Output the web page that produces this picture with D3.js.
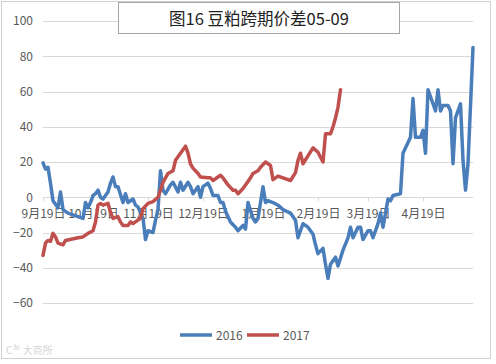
<!DOCTYPE html>
<html><head><meta charset="utf-8">
<script src="https://cdn.jsdelivr.net/npm/d3@7"></script>
<style>body{margin:0;background:#fff}svg{display:block}</style>
</head><body><svg id="c" width="496" height="364"></svg>
<script>
const title = "图16 豆粕跨期价差05-09";
const xTickIdx = [0, 20, 42, 64, 88, 110, 130, 152];
const xTickLabels = ["9月19日","10月19日","11月19日","12月19日","1月19日","2月19日","3月19日","4月19日"];
const yTicks = [-60, -40, -20, 0, 20, 40, 60, 80, 100];
const seriesNames = ["2016", "2017"];
const seriesColors = ["#4a7ebb", "#c0504d"];
const watermark = "C³⁰ 大商所";

// trading-day index and spread value, 2016 series
const day2016 = [0,1,2,3,4,6,7,8,10,14,16,17,18,19,20,21,22,23,24,26,27,28,29,30,32,33,34,36,37,38,40,41,42,44,45,46,47,48,49,51,52,54,55,56,58,59,60,62,63,64,66,67,68,70,71,72,73,75,77,78,80,81,82,84,85,86,88,89,90,92,94,96,99,101,102,104,106,108,109,110,112,113,114,115,117,118,120,122,123,124,126,127,128,130,131,132,134,135,136,137,138,139,140,143,144,146,147,148,149,151,152,153,154,155,157,158,159,160,162,163,164,165,167,168,169,170,172];
const val2016 = [19.5,16,17,8,-2,-6,3,-7,-9,-11,-12,-3,-6,-3,1,2,4,0,-1,3,8,11.5,6,6,-3,2,-3,-1,-4.5,-5.5,-12,-24,-19,-20,-13,-7,15,4,2,7,8.5,3,8.5,4,8.5,6,2,6,0,6,8,5,1,1,-3,-3,-8,-14,-17,-19,-16,-18,-3,-12,-14,-12,6,-3,-2,-3,-4.5,-7,-9,-13,-23,-15,-17,-21,-27,-32,-29,-38,-46,-38,-34,-39,-30,-23,-17,-23,-17,-17,-24,-19,-19,-23,-15,-9,-17,-9,-1,-2,1,2,25,31,34,56,34,34,38,25,61,57,49,61,49,52,52,49,19,45,53,21,4,19,85];

// trading-day index and spread value, 2017 series
const day2017 = [0,1,2,3,4,5,6,8,9,14,16,18,20,21,22,23,24,26,27,28,30,31,32,34,35,36,38,39,40,42,44,46,47,48,50,52,53,54,56,57,58,59,60,62,63,66,67,68,70,71,72,74,76,77,78,80,81,83,84,86,87,89,91,92,94,99,101,102,103,104,108,110,112,113,115,116,117,118,119];
const val2017 = [-33,-26,-24.5,-25,-20.5,-22.5,-26,-27,-24.5,-23,-22.5,-20.5,-19,-14,-4.5,-3.5,-4.5,-3.5,-8.5,-12,-11,-14,-16,-16,-14,-15,-13,-12,-6.5,-3.5,-2.5,0,4,8.5,13.5,15,21,23,27,29,25,19,16.5,13.5,11.5,11,11,9.5,11.5,12.5,11,7,4,4,2,5,7,11,13.5,15,17,20,18,10,12,9.5,14,21,25,19,28,25.5,20,36,36,40,45,51,61];

const svg = d3.select("#c");
const font = "'Noto Sans CJK SC', 'Liberation Sans', sans-serif";

svg.append("rect").attr("x", 1.5).attr("y", 1.5).attr("width", 489).attr("height", 357)
  .attr("fill", "#fff").attr("stroke", "#d0d0d0").attr("stroke-width", 1);

const x = d3.scaleLinear().domain([0, 172]).range([43, 473]);
const y = d3.scaleLinear().domain([-60, 100]).range([303, 21]);

// gridlines
svg.append("g").selectAll("line").data(yTicks).join("line")
  .attr("x1", 43).attr("x2", 473)
  .attr("y1", d => Math.round(y(d)) + 0.5).attr("y2", d => Math.round(y(d)) + 0.5)
  .attr("stroke", "#d9d9d9").attr("stroke-width", 1);

// y axis labels
const yAxis = d3.axisLeft(y).tickValues(yTicks).tickSize(0).tickPadding(0);
const gy = svg.append("g").attr("transform", "translate(33,0)").call(yAxis);
gy.select(".domain").remove();
gy.selectAll("text").attr("font-family", font).attr("font-size", 12).attr("fill", "#595959");

// x axis (at value 0), drawn beneath the series lines
const xAxis = d3.axisBottom(x).tickValues(xTickIdx).tickFormat((d, i) => xTickLabels[i]).tickSize(4).tickPadding(8);
const gx = svg.append("g").attr("transform", `translate(0,${Math.round(y(0)) + 0.5})`).call(xAxis);
gx.select(".domain").attr("stroke", "#d9d9d9").attr("d", `M43,0H473`);
gx.selectAll(".tick line").attr("stroke", "#d9d9d9");
gx.selectAll("text").attr("font-family", font).attr("font-size", 12).attr("fill", "#595959");

// lines
const line = d3.line().x(d => x(d[0])).y(d => y(d[1])).curve(d3.curveLinear);
const data2016 = day2016.map((d, i) => [d, val2016[i]]);
const data2017 = day2017.map((d, i) => [d, val2017[i]]);
[data2016, data2017].forEach((dat, i) => {
  svg.append("path").datum(dat).attr("d", line).attr("fill", "none")
    .attr("stroke", seriesColors[i]).attr("stroke-width", 3.5)
    .attr("stroke-linejoin", "round").attr("stroke-linecap", "round");
});

// title box
svg.append("rect").attr("x", 118.5).attr("y", 2.5).attr("width", 281).attr("height", 31)
  .attr("fill", "#fff").attr("stroke", "#a6a6a6").attr("stroke-width", 1);
svg.append("text").attr("x", 259).attr("y", 24.5).attr("text-anchor", "middle")
  .attr("font-family", font).attr("font-size", 16.5).attr("fill", "#222").text(title);

// legend
const lg = svg.append("g");
const legendX = [180, 247];
seriesNames.forEach((n, i) => {
  lg.append("line").attr("x1", legendX[i]).attr("x2", legendX[i] + 32)
    .attr("y1", 335).attr("y2", 335).attr("stroke", seriesColors[i]).attr("stroke-width", 3.5);
  lg.append("text").attr("x", legendX[i] + 36).attr("y", 339.5)
    .attr("font-family", font).attr("font-size", 12).attr("fill", "#595959").text(n);
});

// faint watermark
svg.append("text").attr("x", 6).attr("y", 354).attr("font-family", font).attr("font-size", 10)
  .attr("fill", "#d5d5d5").text(watermark);
</script></body></html>
